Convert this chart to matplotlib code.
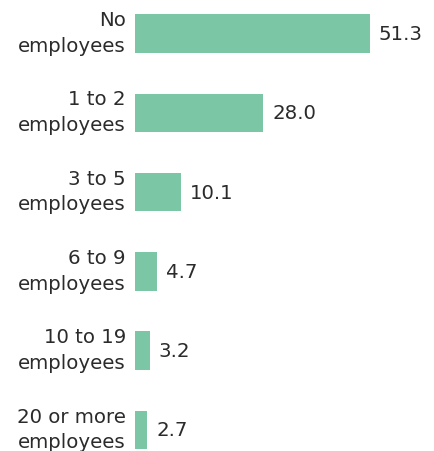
import matplotlib
matplotlib.use("Agg")
import matplotlib.pyplot as plt
from matplotlib.transforms import blended_transform_factory, ScaledTranslation

categories = ["No\nemployees", "1 to 2\nemployees", "3 to 5\nemployees",
              "6 to 9\nemployees", "10 to 19\nemployees", "20 or more\nemployees"]
values = [51.3, 28.0, 10.1, 4.7, 3.2, 2.7]

W, H = 434, 452
fig = plt.figure(figsize=(W / 100, H / 100), dpi=100)
left_px = 135
ax = fig.add_axes([left_px / W, 0, (W - left_px) / W, 1])

bar_color = "#7BC6A4"
text_color = "#2b2b2b"
fs = 14.2

ypos = list(range(len(categories)))
ax.barh(ypos, values, height=0.485, color=bar_color)

spacing = 79.3
first_center = 34.5
ax.set_ylim((H - first_center) / spacing, -first_center / spacing)
ax.set_xlim(0, (W - left_px) / 4.58)

ax.set_yticks([])
ax.set_xticks([])
for s in ax.spines.values():
    s.set_visible(False)

label_tr = blended_transform_factory(ax.transAxes, ax.transData) + \
    ScaledTranslation(-9 / 100, 1 / 100, fig.dpi_scale_trans)
for y, lab in zip(ypos, categories):
    ax.text(0, y, lab, transform=label_tr, ha="right", va="center",
            fontsize=fs, color=text_color, linespacing=1.45, clip_on=False)

for y, v in zip(ypos, values):
    ax.annotate(f"{v:.1f}", xy=(v, y), xytext=(6.5, 0), textcoords="offset points",
                ha="left", va="center", fontsize=fs, color=text_color)

fig.savefig("out.png", dpi=100)
